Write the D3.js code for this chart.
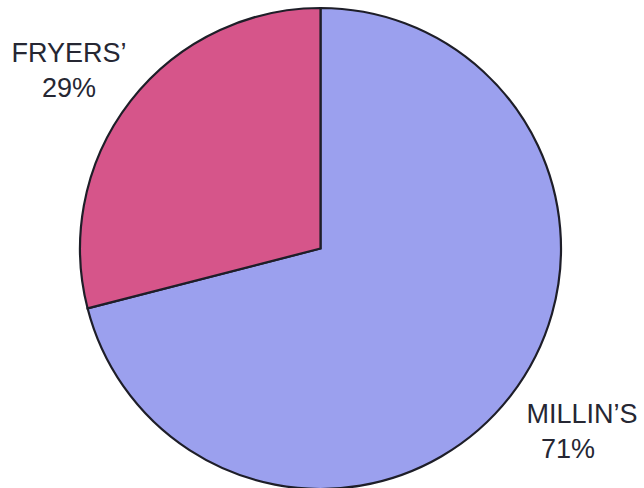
<!DOCTYPE html>
<html>
<head>
<meta charset="utf-8">
<script src="https://cdn.jsdelivr.net/npm/d3@7"></script>
<style>
  html, body { margin: 0; padding: 0; background: #ffffff; }
  svg { display: block; }
</style>
</head>
<body>
<svg id="chart" width="644" height="488"></svg>
<script>
// Share of output by mill
const categories = ["MILLIN\u2019S", "FRYERS\u2019"];
const values = [71, 29];
const colors = ["#9ba0ee", "#d6558a"];

const svg = d3.select("#chart");
const cx = 320.5, cy = 248.5, radius = 240.5;

const pie = d3.pie().sort(null).value(d => d.value);
const arcs = pie(categories.map((c, i) => ({ name: c, value: values[i], color: colors[i] })));
const arc = d3.arc().innerRadius(0).outerRadius(radius);

const g = svg.append("g").attr("transform", `translate(${cx},${cy})`);
g.selectAll("path")
  .data(arcs)
  .join("path")
  .attr("d", arc)
  .attr("fill", d => d.data.color)
  .attr("stroke", "#1e1e28")
  .attr("stroke-width", 2.2)
  .attr("stroke-linejoin", "miter");

// Labels set outside the pie, name above percentage
const labelPos = [
  { x: 582, y1: 423, y2: 458, dx2: -14 },
  { x: 69, y1: 62, y2: 97, dx2: 0 }
];
const labels = svg.append("g")
  .attr("font-family", "Liberation Sans, Arial, sans-serif")
  .attr("font-size", 27)
  .attr("fill", "#262733")
  .attr("text-anchor", "middle");
arcs.forEach((d, i) => {
  const p = labelPos[i];
  labels.append("text").attr("x", p.x).attr("y", p.y1).text(d.data.name);
  labels.append("text").attr("x", p.x + p.dx2).attr("y", p.y2).text(d3.format(".0f")(d.data.value) + "%");
});
</script>
</body>
</html>
